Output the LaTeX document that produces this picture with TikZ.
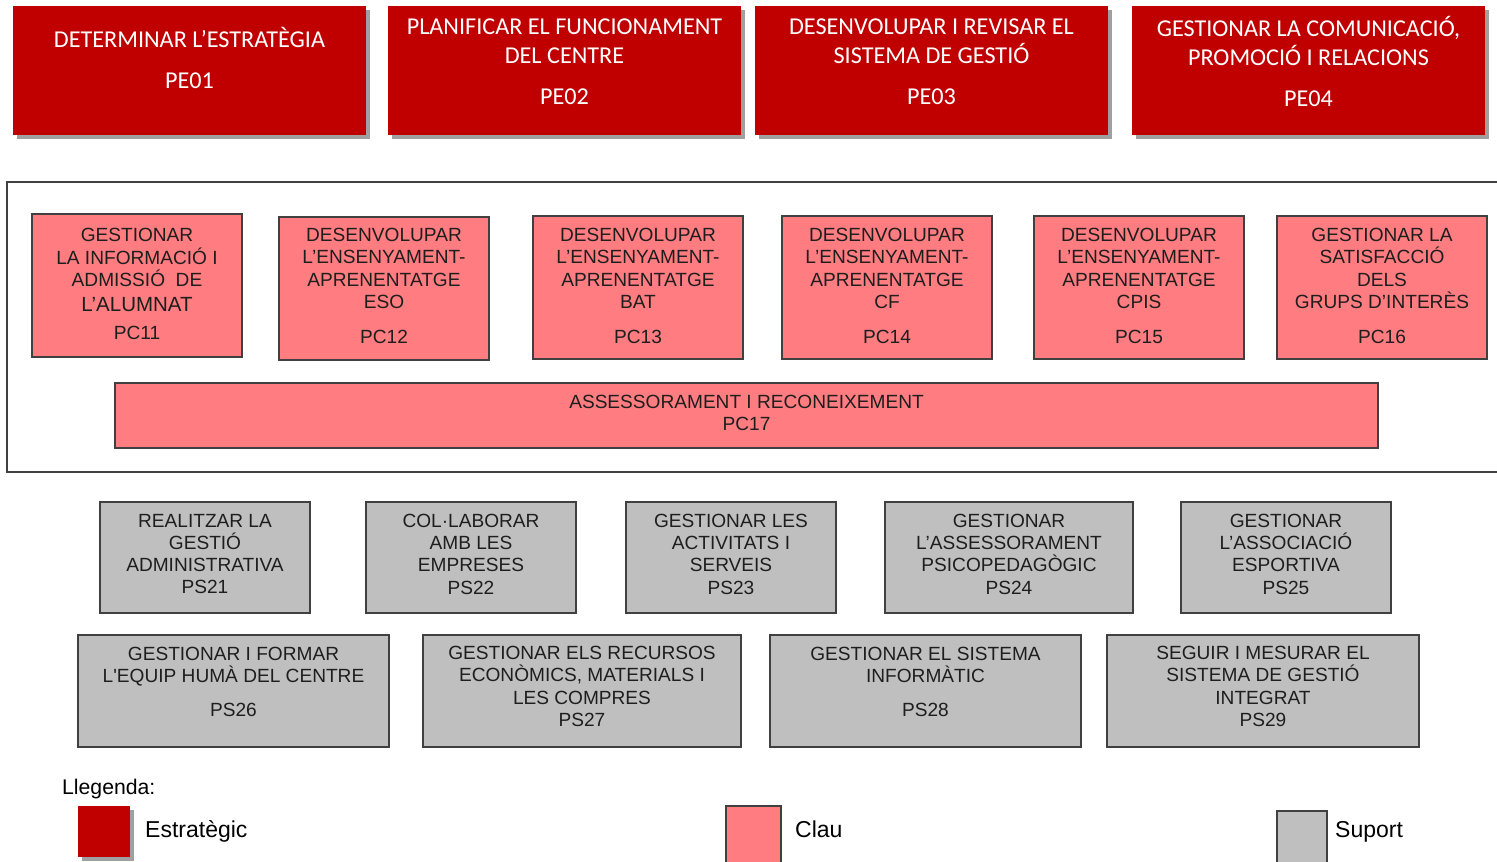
\documentclass[tikz,border=0pt]{standalone}
\usepackage{fontspec}
\setmainfont{Liberation Sans}
\newfontfamily\calib{Carlito}
\newfontfamily\plainarial{Liberation Sans}
\definecolor{estr}{HTML}{C00000}
\definecolor{clau}{HTML}{FF7C80}
\definecolor{suport}{HTML}{BFBFBF}
\definecolor{edge}{HTML}{404040}
\definecolor{shad}{HTML}{A0A0A0}
\definecolor{txt}{HTML}{1E1E1E}
\tikzset{
  pebox/.style={fill=estr, draw=none, inner sep=0pt,
    minimum width=353pt, minimum height=129pt},
  petext/.style={text=white, align=center, inner sep=0pt,
    font=\calib\fontsize{24.2}{29}\selectfont},
  pcbox/.style={fill=clau, draw=edge, line width=1.2pt, inner sep=0pt,
    minimum width=210pt, minimum height=143pt},
  psbox/.style={fill=suport, draw=edge, line width=1.2pt, inner sep=0pt,
    minimum width=210pt, minimum height=111pt},
  bxtext/.style={text=txt, align=center, inner sep=0pt,
    font=\fontsize{19.1}{22.3}\selectfont},
  legtext/.style={text=black, anchor=west, inner sep=0pt,
    font=\fontsize{23}{27}\selectfont},
}
\begin{document}
\begin{tikzpicture}[x=1pt,y=-1pt]
\useasboundingbox (0,0) rectangle (1497,862);
\clip (0,0) rectangle (1497,862);
\fill[white] (0,0) rectangle (1497,862);

% ---- Estrategic boxes ----
\foreach \cx in {189.5,564.5,931.5,1308.5}{
  \fill[shad] (\cx-176.5+4,6+4) rectangle (\cx+176.5+4,135+4);
}
\node[pebox] (pe1) at (189.5,70.5) {};
\node[pebox] (pe2) at (564.5,70.5) {};
\node[pebox] (pe3) at (931.5,70.5) {};
\node[pebox] (pe4) at (1308.5,70.5) {};
\node[petext] (pe1t) at (189.5,57.5) {DETERMINAR L’ESTRATÈGIA\\[12pt]PE01};
\node[petext] (pe2t) at (564.5,61.5) {PLANIFICAR EL FUNCIONAMENT\\DEL CENTRE\\[12pt]PE02};
\node[petext] (pe3t) at (931.5,61.5) {DESENVOLUPAR I REVISAR EL\\SISTEMA DE GESTIÓ\\[12pt]PE03};
\node[petext] (pe4t) at (1308.5,61) {GESTIONAR LA COMUNICACIÓ,\\PROMOCIÓ I RELACIONS\\[12pt]PE04};

% ---- frame of key processes ----
\draw[edge, line width=1.2pt] (1500,182) -- (7,182) -- (7,472) -- (1500,472);

% ---- key processes ----
\node[pcbox] (pc11) at (137,285.5) {};
\node[pcbox] (pc12) at (384,288.5) {};
\node[pcbox] (pc13) at (638,287.5) {};
\node[pcbox] (pc14) at (887,287.5) {};
\node[pcbox] (pc15) at (1139,287.5) {};
\node[pcbox] (pc16) at (1382,287.5) {};
\node[pcbox, minimum width=1263pt, minimum height=65pt] (pc17) at (746.5,415.5) {};

\node[bxtext] (pc11t) at (137,284) {GESTIONAR\\LA INFORMACIÓ I\\ADMISSIÓ\ \ DE\\[3pt]{\fontsize{20.5}{22}\selectfont L’ALUMNAT}\\[5pt]PC11};
\node[bxtext] (pc12t) at (384,286) {DESENVOLUPAR\\L’ENSENYAMENT-\\APRENENTATGE\\ESO\\[13pt]PC12};
\node[bxtext] (pc13t) at (638,286) {DESENVOLUPAR\\L’ENSENYAMENT-\\APRENENTATGE\\BAT\\[13pt]PC13};
\node[bxtext] (pc14t) at (887,286) {DESENVOLUPAR\\L’ENSENYAMENT-\\APRENENTATGE\\CF\\[13pt]PC14};
\node[bxtext] (pc15t) at (1139,286) {DESENVOLUPAR\\L’ENSENYAMENT-\\APRENENTATGE\\CPIS\\[13pt]PC15};
\node[bxtext] (pc16t) at (1382,286) {GESTIONAR LA\\SATISFACCIÓ\\DELS\\GRUPS D’INTERÈS\\[13pt]PC16};
\node[bxtext] (pc17t) at (746.5,413) {ASSESSORAMENT I RECONEIXEMENT\\PC17};

% ---- support processes ----
\node[psbox] (ps21) at (205,557.5) {};
\node[psbox] (ps22) at (471,557.5) {};
\node[psbox] (ps23) at (731,557.5) {};
\node[psbox, minimum width=248pt] (ps24) at (1009,557.5) {};
\node[psbox] (ps25) at (1286,557.5) {};
\node[psbox, minimum width=311pt, minimum height=112pt] (ps26) at (233.5,691) {};
\node[psbox, minimum width=318pt, minimum height=112pt] (ps27) at (582,691) {};
\node[psbox, minimum width=311pt, minimum height=112pt] (ps28) at (925.5,691) {};
\node[psbox, minimum width=312pt, minimum height=112pt] (ps29) at (1263,691) {};

\node[bxtext] (ps21t) at (205,554) {REALITZAR LA\\GESTIÓ\\ADMINISTRATIVA\\PS21};
\node[bxtext] (ps22t) at (471,554) {COL·LABORAR\\AMB LES\\EMPRESES\\PS22};
\node[bxtext] (ps23t) at (731,554) {GESTIONAR LES\\ACTIVITATS I\\SERVEIS\\PS23};
\node[bxtext] (ps24t) at (1009,554) {GESTIONAR\\L’ASSESSORAMENT\\PSICOPEDAGÒGIC\\PS24};
\node[bxtext] (ps25t) at (1286,554) {GESTIONAR\\L’ASSOCIACIÓ\\ESPORTIVA\\PS25};
\node[bxtext] (ps26t) at (233.5,682) {GESTIONAR I FORMAR\\L{\plainarial '}EQUIP HUMÀ DEL CENTRE\\[12pt]PS26};
\node[bxtext] (ps27t) at (582,686.5) {GESTIONAR ELS RECURSOS\\ECONÒMICS, MATERIALS I\\LES COMPRES\\PS27};
\node[bxtext] (ps28t) at (925.5,682) {GESTIONAR EL SISTEMA\\INFORMÀTIC\\[12pt]PS28};
\node[bxtext] (ps29t) at (1263,686.5) {SEGUIR I MESURAR EL\\SISTEMA DE GESTIÓ\\INTEGRAT\\PS29};

% ---- legend ----
\node[legtext, font=\fontsize{21.2}{24}\selectfont] (lleg) at (62,789) {Llegenda:};
\fill[shad] (82,810) rectangle (134,861);
\node[fill=estr, draw=none, inner sep=0pt, minimum width=52pt, minimum height=51pt] (lgE) at (104,831.5) {};
\node[legtext] (lgEt) at (145,831) {Estratègic};
\node[fill=clau, draw=edge, line width=1.2pt, inner sep=0pt, minimum width=55pt, minimum height=64pt] (lgC) at (753.5,838) {};
\node[legtext] (lgCt) at (795,829) {Clau};
\node[fill=suport, draw=edge, line width=1.2pt, inner sep=0pt, minimum width=50pt, minimum height=59pt] (lgS) at (1302,840.5) {};
\node[legtext] (lgSt) at (1335,831.5) {Suport};
\end{tikzpicture}
\end{document}
